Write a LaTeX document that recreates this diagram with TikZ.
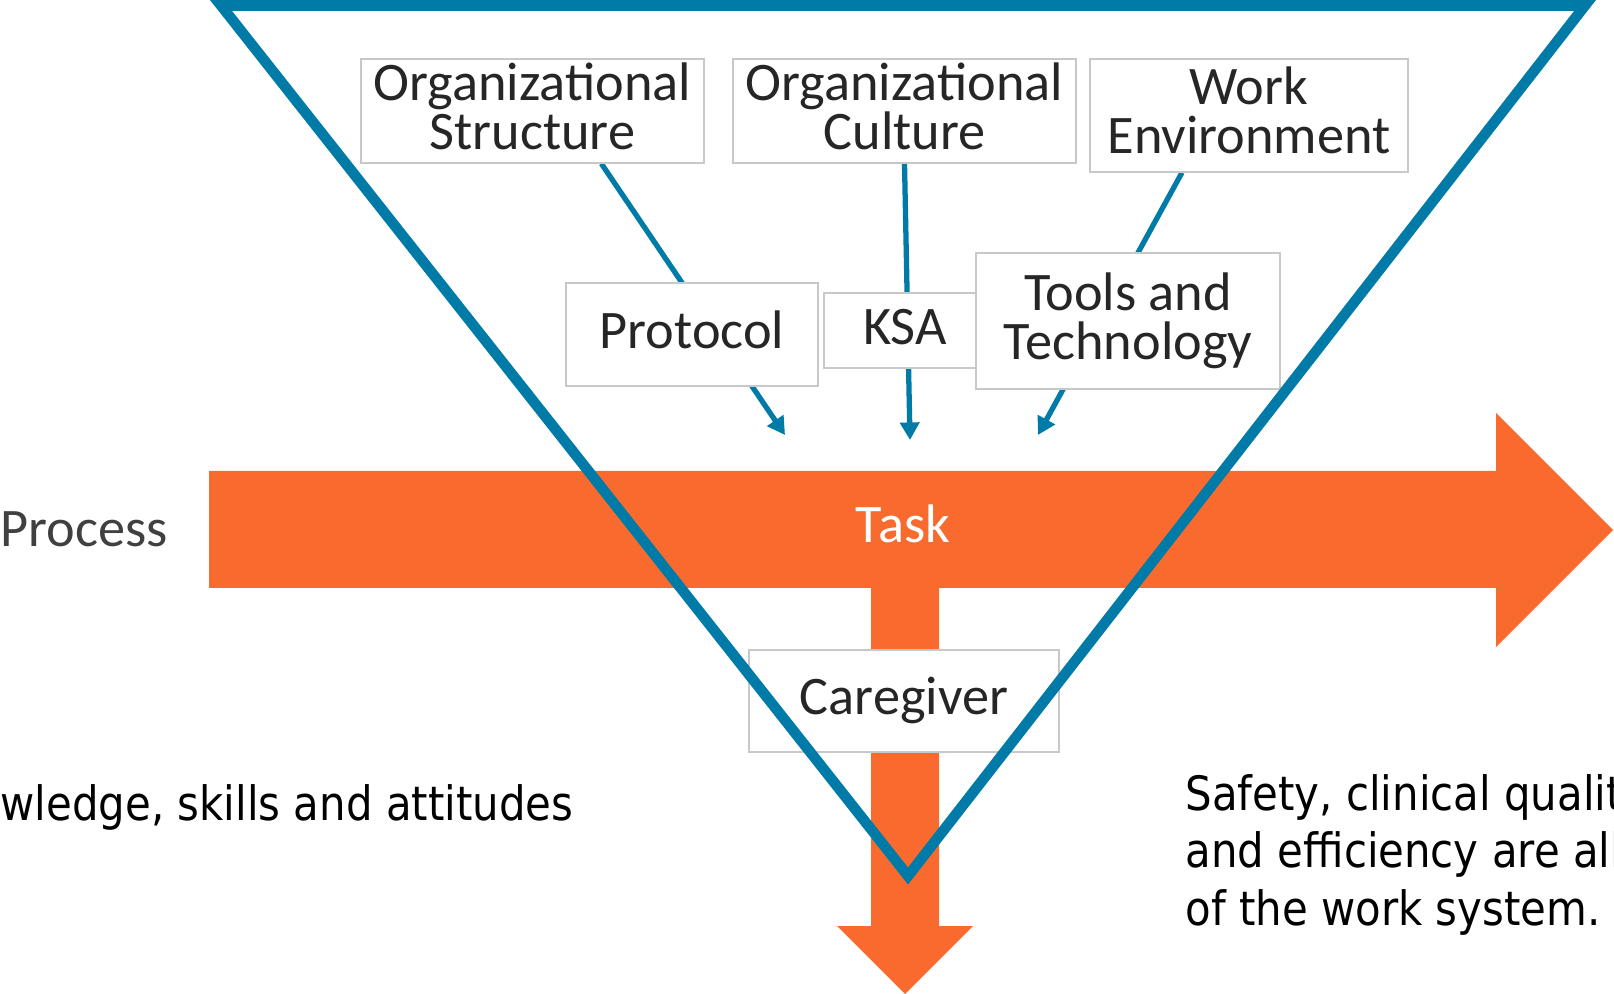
\documentclass[tikz,border=0pt]{standalone}
\usepackage{fontspec}
\setmainfont{Carlito}
\newfontfamily\notefont[FakeStretch=0.885]{DejaVu Sans}
\usetikzlibrary{arrows.meta,calc,backgrounds}

\definecolor{wsblue}{RGB}{0,123,167}
\definecolor{wsorange}{RGB}{248,106,46}
\definecolor{boxtext}{RGB}{38,38,38}
\definecolor{boxline}{RGB}{200,200,200}
\definecolor{proctext}{RGB}{64,64,64}

\begin{document}
\begin{tikzpicture}[
			factor/.style={draw=boxline, line width=0.35pt, fill=white, text=boxtext,
				align=center, inner sep=0pt, font=\fontsize{15.45}{13.9}\selectfont,
				text height=0.407cm, text depth=0.136cm},
			twoline/.style={text height=0.897cm},
			link/.style={draw=wsblue, line width=1.5pt, -{Triangle[length=5pt,width=5.4pt]}},
			frame/.style={draw=wsblue, line width=3pt, line join=miter},
			flow/.style={fill=wsorange},
			note/.style={font=\notefont\fontsize{13.46}{16.36}\selectfont, inner sep=0pt, align=left}
		]

		\useasboundingbox (0,0) rectangle (16.14,-9.94);

		% Process arrow with the branch down to the outcome
		\fill[flow] (2.09,-4.71) -- (14.96,-4.71) -- (14.96,-4.13) -- (16.13,-5.30)
			-- (14.96,-6.47) -- (14.96,-5.88) -- (9.39,-5.88) -- (9.39,-9.26)
			-- (9.73,-9.26) -- (9.05,-9.94) -- (8.37,-9.26) -- (8.71,-9.26)
			-- (8.71,-5.88) -- (2.09,-5.88) -- cycle;

		% Outer factors
		\node[factor, twoline, minimum width=3.43cm, minimum height=1.04cm] (orgstruct) at (5.325,-1.11) {Organizational\\Structure};
		\node[factor, twoline, minimum width=3.43cm, minimum height=1.04cm] (orgcult) at (9.045,-1.11) {Organizational\\Culture};
		\node[factor, twoline, minimum width=3.18cm, minimum height=1.13cm] (workenv) at (12.49,-1.155) {Work\\Environment};

		% Inner factors
		\node[factor, minimum width=2.52cm, minimum height=1.03cm] (protocol) at (6.92,-3.345) {Protocol};
		\node[factor, minimum width=1.62cm, minimum height=0.75cm] (ksa) at (9.05,-3.305) {KSA};
		\node[factor, twoline, minimum width=3.04cm, minimum height=1.36cm] (tools) at (11.28,-3.21) {Tools and\\Technology};

		% Where the factors meet the task
		\coordinate (tipL) at (7.85,-4.35);
		\coordinate (tipM) at (9.10,-4.40);
		\coordinate (tipR) at (10.38,-4.35);

		\begin{scope}[on background layer]
			\draw[link] ($(orgstruct.south west)!0.7!(orgstruct.south east)$) -- (tipL);
			\draw[link] (orgcult.south) -- (tipM);
			\draw[link] ($(workenv.south west)!0.29!(workenv.south east)$) -- (tipR);
		\end{scope}

		\node[factor, minimum width=3.10cm, minimum height=1.02cm] (caregiver) at (9.04,-7.01) {Caregiver};

		% Labels
		\node[font=\fontsize{15.45}{13.9}\selectfont, text=white, anchor=base, inner sep=0pt] (task) at (9.03,-5.43) {Task};
		\node[font=\fontsize{15.45}{13.9}\selectfont, text=proctext, anchor=base west, inner sep=0pt] (process) at (0,-5.47) {Process};
		\node[note, anchor=base west] (ksanote) at (0,-8.21) {wledge, skills and attitudes};
		\node[note, anchor=base west] (outcome) at (11.85,-9.25) {Safety, clinical qualit\\and efficiency are all\\of the work system.};

		% Work system frame
		\draw[frame] (2.21,-0.055) -- (15.85,-0.055) -- (9.08,-8.76) -- cycle;

	\end{tikzpicture}
\end{document}
